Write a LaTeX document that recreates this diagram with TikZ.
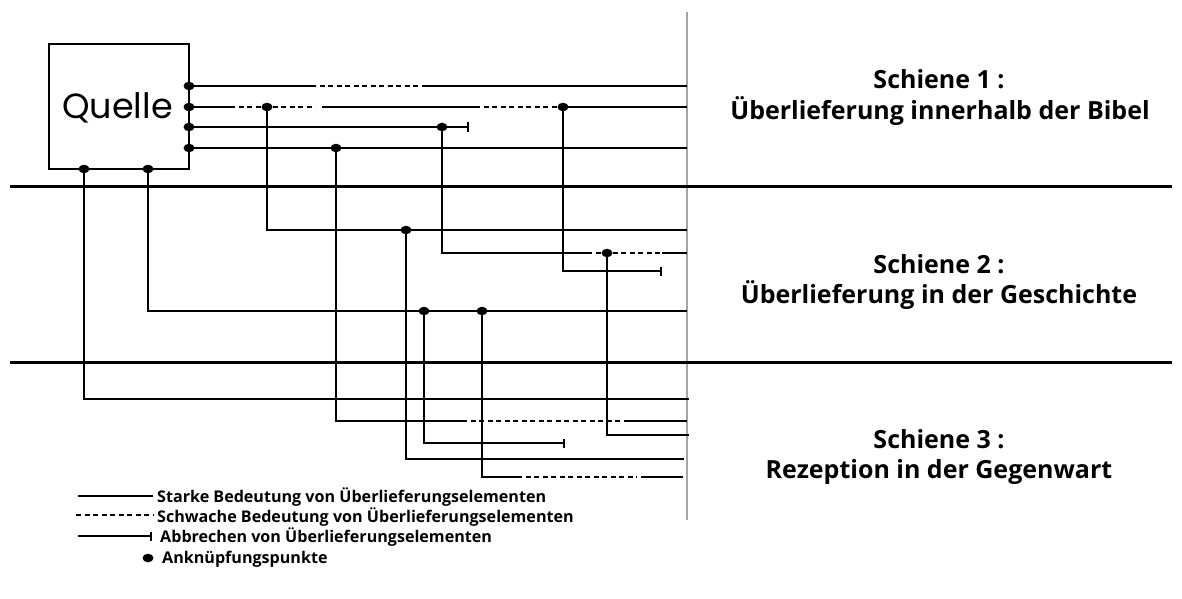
\documentclass[tikz,border=0pt]{standalone}
\usepackage{fontspec}
\setmainfont{Open Sans}
\newfontfamily\quellefont{Poppins}
\usetikzlibrary{arrows.meta,shapes.geometric}
\begin{document}
\begin{tikzpicture}[x=1pt,y=-1pt,
  conn/.style={line width=1.6pt, line join=miter, line cap=butt},
  weak/.style={line width=2.2pt, dash pattern=on 5pt off 3.5pt},
  barend/.style={-{Bar[width=9pt,line width=2.4pt]}},
  dot/.style={ellipse, fill=black, minimum width=11pt, minimum height=8.5pt, inner sep=0pt},
  rail/.style={line width=3pt},
  divider/.style={line width=1.2pt, draw=black!35},
  schiene/.style={font=\bfseries\fontsize{25}{30}\selectfont, anchor=base, inner sep=0pt},
  legtext/.style={font=\bfseries\fontsize{16.1}{19}\selectfont, anchor=base west, inner sep=0pt}]
\useasboundingbox (0,0) rectangle (1182,599);

% divider and rails
\coordinate (div1) at (687,12); \coordinate (div2) at (687,520);
\draw[divider] (div1) -- (div2);
\coordinate (r1a) at (10,186); \coordinate (r1b) at (1172,186);
\coordinate (r2a) at (10,362); \coordinate (r2b) at (1172,362);
\draw[rail] (r1a) -- (r1b);
\draw[rail] (r2a) -- (r2b);

% source box
\node[draw, line width=1.5pt, minimum width=140pt, minimum height=125pt, inner sep=0pt] (quelle) at (119,106.5) {};
\node[font=\quellefont\fontsize{35}{40}\selectfont, anchor=base, inner sep=0pt] (qtext) at (117.5,119) {Quelle};

% coordinates
\coordinate (a1) at (189,86); \coordinate (a2) at (189,107);
\coordinate (a3) at (189,127); \coordinate (a4) at (189,148);
\coordinate (b1) at (84,169); \coordinate (b2) at (148,169);
\coordinate (l1s) at (311,86); \coordinate (l1d) at (423,86); \coordinate (l1e) at (687,86);
\coordinate (l2a) at (230,107); \coordinate (p2) at (267,107); \coordinate (l2b) at (315,107);
\coordinate (l2c) at (322,107); \coordinate (l2d) at (475,107); \coordinate (p3) at (563,107);
\coordinate (l2e) at (687,107);
\coordinate (p4) at (442,127); \coordinate (l3e) at (469,127);
\coordinate (p5) at (336,148); \coordinate (l4e) at (687,148);
\coordinate (c1) at (267,230); \coordinate (p6) at (406,230); \coordinate (e1) at (687,230);
\coordinate (c2) at (442,253); \coordinate (m1) at (587,253); \coordinate (p7) at (607,253);
\coordinate (m2) at (662,253); \coordinate (e2) at (687,253);
\coordinate (c3) at (563,271); \coordinate (e3) at (662,271);
\coordinate (c4) at (148,311); \coordinate (p8) at (424,311); \coordinate (p9) at (482,311);
\coordinate (e4) at (687,311);
\coordinate (c5) at (84,399); \coordinate (e5) at (689,399);
\coordinate (c6) at (336,421); \coordinate (n1) at (462,421); \coordinate (n2) at (627,421);
\coordinate (e6) at (687,421);
\coordinate (c7) at (607,435); \coordinate (e7) at (689,435);
\coordinate (c8) at (424,443); \coordinate (e8) at (565,443);
\coordinate (c9) at (406,459); \coordinate (e9) at (684,459);
\coordinate (c10) at (482,477); \coordinate (n3) at (517,477); \coordinate (n4) at (637,477);
\coordinate (n5) at (641,477); \coordinate (e10) at (683,477);

% Schiene 1 lines
\draw[conn] (a1) -- (l1s);
\draw[weak] (l1s) -- (l1d);
\draw[conn] (l1d) -- (l1e);
\draw[conn] (a2) -- (l2a);
\draw[weak] (l2a) -- (l2b);
\draw[conn] (l2c) -- (l2d);
\draw[weak] (l2d) -- (p3);
\draw[conn] (p3) -- (l2e);
\draw[conn, barend] (a3) -- (l3e);
\draw[conn] (a4) -- (l4e);

% branches
\draw[conn] (p2) -- (c1) -- (e1);
\draw[conn] (p4) -- (c2) -- (m1);
\draw[weak] (m1) -- (m2);
\draw[conn] (m2) -- (e2);
\draw[conn, barend] (p3) -- (c3) -- (e3);
\draw[conn] (b2) -- (c4) -- (e4);
\draw[conn] (b1) -- (c5) -- (e5);
\draw[conn] (p5) -- (c6) -- (n1);
\draw[weak] (n1) -- (n2);
\draw[conn] (n2) -- (e6);
\draw[conn] (p7) -- (c7) -- (e7);
\draw[conn, barend] (p8) -- (c8) -- (e8);
\draw[conn] (p6) -- (c9) -- (e9);
\draw[conn] (p9) -- (c10) -- (n3);
\draw[weak] (n3) -- (n4);
\draw[conn] (n5) -- (e10);

% dots
\foreach \p in {a1,a2,a3,a4,b1,b2,p2,p3,p4,p5,p6,p7,p8,p9}
  \node[dot] (dot-\p) at (\p) {};

% rail labels
\node[schiene] (s1a) at (939,89) {Schiene 1 :};
\node[schiene] (s1b) at (940,120) {Überlieferung innerhalb der Bibel};
\node[schiene] (s2a) at (939,273) {Schiene 2 :};
\node[schiene] (s2b) at (939,303) {Überlieferung in der Geschichte};
\node[schiene] (s3a) at (939,448) {Schiene 3 :};
\node[schiene] (s3b) at (939,478) {Rezeption in der Gegenwart};

% legend
\coordinate (lg1a) at (78,496); \coordinate (lg1b) at (153,496);
\coordinate (lg2a) at (76,515); \coordinate (lg2b) at (153,515);
\coordinate (lg3a) at (78,536); \coordinate (lg3b) at (152,536);
\draw[conn] (lg1a) -- (lg1b);
\draw[weak] (lg2a) -- (lg2b);
\draw[conn, barend] (lg3a) -- (lg3b);
\node[dot] (lgdot) at (148,558) {};
\node[legtext] (lt1) at (157,502) {Starke Bedeutung von Überlieferungselementen};
\node[legtext] (lt2) at (157,522) {Schwache Bedeutung von Überlieferungselementen};
\node[legtext] (lt3) at (160,542) {Abbrechen von Überlieferungselementen};
\node[legtext] (lt4) at (162,563) {Anknüpfungspunkte};
\end{tikzpicture}
\end{document}
